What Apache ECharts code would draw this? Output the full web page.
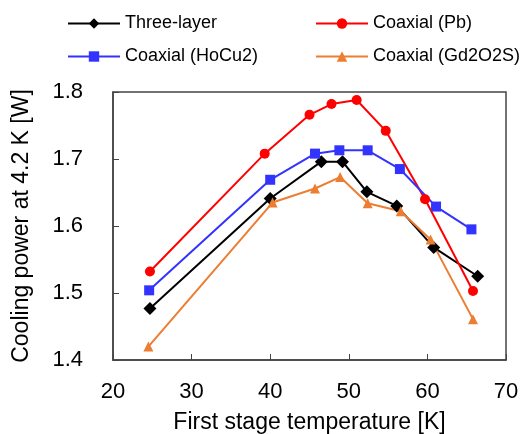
<!DOCTYPE html>
<html><head><meta charset="utf-8">
<script src="https://cdn.jsdelivr.net/npm/echarts@6/dist/echarts.min.js"></script>
<style>html,body{margin:0;padding:0;background:#fff}#c{width:526px;height:434px}</style>
</head><body><div id="c"></div>
<script>
const seriesNames = ['Three-layer', 'Coaxial (Pb)', 'Coaxial (HoCu2)', 'Coaxial (Gd2O2S)'];
const threeLayerX = [24.7, 40.0, 46.5, 49.2, 52.3, 56.1, 60.8, 66.4];
const threeLayerY = [1.477, 1.641, 1.696, 1.696, 1.651, 1.630, 1.568, 1.525];
const pbX = [24.7, 39.3, 45.0, 47.8, 51.0, 54.7, 59.7, 65.8];
const pbY = [1.532, 1.708, 1.766, 1.782, 1.788, 1.742, 1.640, 1.503];
const hocu2X = [24.6, 40.0, 45.7, 48.8, 52.4, 56.5, 61.1, 65.6];
const hocu2Y = [1.504, 1.669, 1.708, 1.713, 1.713, 1.685, 1.629, 1.595];
const gdX = [24.5, 40.3, 45.7, 48.9, 52.4, 56.6, 60.4, 65.8];
const gdY = [1.420, 1.635, 1.656, 1.673, 1.634, 1.622, 1.580, 1.461];
const xTicks = [20, 30, 40, 50, 60, 70];
const yTicks = [1.4, 1.5, 1.6, 1.7, 1.8];

const pair = (xs, ys) => xs.map((x, i) => [x, ys[i]]);
const font = 'Liberation Sans, Arial, sans-serif';
const chart = echarts.init(document.getElementById('c'));
const mk = (name, data, color, symbol, size) => ({
  name, type: 'line', data, symbol, symbolSize: size,
  lineStyle: {color, width: 2}, itemStyle: {color}, z: 3
});
const legendCommon = {
  orient: 'vertical', itemWidth: 52, itemHeight: 13, itemGap: 14,
  textStyle: {fontFamily: font, fontSize: 18, lineHeight: 19, color: '#000'}
};
chart.setOption({
  animation: false,
  grid: {left: 113, right: 20, top: 92, bottom: 74, show: true, borderColor: '#444', borderWidth: 1.5,
         containLabel: false, outerBoundsMode: 'none'},
  legend: [
    Object.assign({}, legendCommon, {left: 62, top: 9, data: [seriesNames[0], seriesNames[2]]}),
    Object.assign({}, legendCommon, {left: 310, top: 9, data: [seriesNames[1], seriesNames[3]]})
  ],
  xAxis: {
    type: 'value', min: xTicks[0], max: xTicks[xTicks.length - 1], interval: 10,
    name: 'First stage temperature [K]', nameLocation: 'middle', nameGap: 51,
    nameTextStyle: {fontFamily: font, fontSize: 23, color: '#000'},
    axisLine: {lineStyle: {color: '#444', width: 1.5}},
    axisTick: {inside: true, length: 6, lineStyle: {color: '#444'}},
    axisLabel: {fontFamily: font, fontSize: 22, color: '#000', margin: 21},
    splitLine: {show: false}
  },
  yAxis: {
    type: 'value', min: yTicks[0], max: yTicks[yTicks.length - 1], interval: 0.1,
    name: 'Cooling power at 4.2 K [W]', nameLocation: 'middle', nameGap: 80,
    nameTextStyle: {fontFamily: font, fontSize: 23, color: '#000'},
    axisLine: {lineStyle: {color: '#444', width: 1.5}},
    axisTick: {inside: true, length: 6, lineStyle: {color: '#444'}},
    axisLabel: {fontFamily: font, fontSize: 22, color: '#000', margin: 30, formatter: v => v.toFixed(1)},
    splitLine: {show: false}
  },
  series: [
    mk(seriesNames[0], pair(threeLayerX, threeLayerY), '#000000', 'diamond', 13),
    mk(seriesNames[1], pair(pbX, pbY), '#ff0000', 'circle', 10),
    mk(seriesNames[2], pair(hocu2X, hocu2Y), '#3333ff', 'rect', 10),
    mk(seriesNames[3], pair(gdX, gdY), '#ed7d31', 'triangle', 10)
  ]
});
</script></body></html>
